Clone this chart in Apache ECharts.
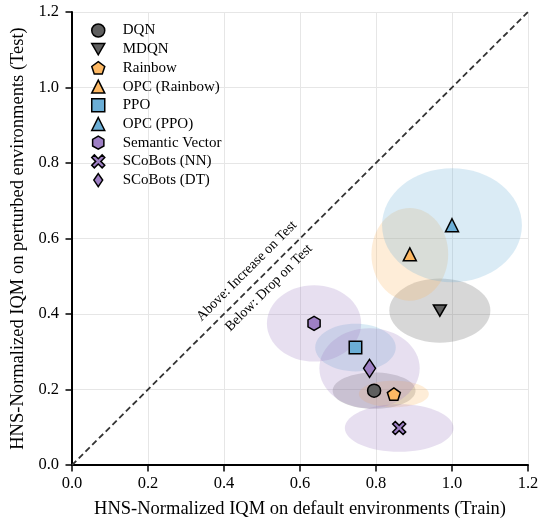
<!DOCTYPE html>
<html><head><meta charset="utf-8">
<script src="https://cdn.jsdelivr.net/npm/echarts@6/dist/echarts.min.js"></script>
<style>html,body{margin:0;padding:0;background:#fff;overflow:hidden}#c{width:538px;height:523px}</style>
</head><body><div id="c"></div>
<script>
const methods = ['DQN','MDQN','Rainbow','OPC (Rainbow)','PPO','OPC (PPO)','Semantic Vector','SCoBots (NN)','SCoBots (DT)'];
const trainIQM = [0.795, 0.968, 0.847, 0.889, 0.746, 1.000, 0.637, 0.861, 0.783];
const testIQM  = [0.197, 0.409, 0.188, 0.558, 0.311, 0.635, 0.375, 0.098, 0.256];
const trainSpread = [0.109, 0.133, 0.092, 0.101, 0.106, 0.184, 0.124, 0.143, 0.132];
const testSpread  = [0.048, 0.085, 0.035, 0.123, 0.063, 0.151, 0.101, 0.063, 0.106];
const axisTicks = [0.0, 0.2, 0.4, 0.6, 0.8, 1.0, 1.2];
const annoText = ['Above: Increase on Test', 'Below: Drop on Test'];
const annoX = [0.460, 0.518];
const annoY = [0.514, 0.469];

const markerColors = ['#5f5f5f','#5f5f5f','#fdb863','#fdb863','#6baed6','#6baed6','#9e7fc4','#9e7fc4','#9e7fc4'];
const ellipseColors = ['rgba(95,95,95,0.25)','rgba(95,95,95,0.25)','rgba(253,184,99,0.25)','rgba(253,184,99,0.25)','rgba(107,174,214,0.25)','rgba(107,174,214,0.25)','rgba(158,127,196,0.25)','rgba(158,127,196,0.25)','rgba(158,127,196,0.25)'];
const thinDiamond = 'path://M0.34,0 L0.68,0.5 L0.34,1 L0,0.5 Z';
const symbols = [
  'circle',
  'path://M0,0 L2,0 L1,1.732 Z',
  'path://M1,0 L1.951,0.691 L1.588,1.809 L0.412,1.809 L0.049,0.691 Z',
  'triangle',
  'rect',
  'triangle',
  'path://M0.866,0 L1.732,0.5 L1.732,1.5 L0.866,2 L0,1.5 L0,0.5 Z',
  'path://M0.2,0 L0.5,0.3 L0.8,0 L1,0.2 L0.7,0.5 L1,0.8 L0.8,1 L0.5,0.7 L0.2,1 L0,0.8 L0.3,0.5 L0,0.2 Z',
  'diamond'
];
const symbolSizes = [13, 13, 13, 13, 12.5, 13, 14, 13, [12, 18]];

const FONT = '"Liberation Serif", "Times New Roman", serif';
const chart = echarts.init(document.getElementById('c'), null, {renderer: 'canvas'});

const series = [];
series.push({
  type: 'custom',
  name: 'spread',
  z: 1,
  silent: true,
  encode: {x: 0, y: 1},
  data: methods.map((m, i) => [trainIQM[i], testIQM[i], trainSpread[i], testSpread[i], i]),
  renderItem: function (params, api) {
    const c = api.coord([api.value(0), api.value(1)]);
    const s = api.size([api.value(2), api.value(3)]);
    return {type: 'ellipse', shape: {cx: c[0], cy: c[1], rx: s[0], ry: s[1]},
      style: {fill: ellipseColors[api.value(4)]}};
  }
});
series.push({
  type: 'line',
  name: 'diag',
  z: 2,
  silent: true,
  symbol: 'none',
  data: [[axisTicks[0], axisTicks[0]], [axisTicks[axisTicks.length-1], axisTicks[axisTicks.length-1]]],
  lineStyle: {color: '#333', width: 1.8, type: [6, 3.5]}
});
series.push({
  type: 'custom',
  name: 'anno',
  z: 2,
  silent: true,
  encode: {x: 0, y: 1},
  data: annoText.map((t, i) => [annoX[i], annoY[i], i]),
  renderItem: function (params, api) {
    const c = api.coord([api.value(0), api.value(1)]);
    return {type: 'text', x: c[0], y: c[1], rotation: Math.PI / 4,
      style: {text: annoText[api.value(2)], align: 'center', verticalAlign: 'middle',
        font: '14px ' + FONT, fill: '#000'}};
  }
});
methods.forEach((m, i) => {
  series.push({
    type: 'scatter',
    name: m,
    z: 5,
    symbol: symbols[i],
    symbolSize: symbolSizes[i],
    symbolKeepAspect: true,
    itemStyle: {color: markerColors[i], borderColor: '#000', borderWidth: 1.5, opacity: 1},
    data: [[trainIQM[i], testIQM[i]]]
  });
});

const axisCommon = {
  min: axisTicks[0], max: axisTicks[axisTicks.length-1], interval: 0.2,
  nameLocation: 'middle',
  nameTextStyle: {fontFamily: FONT, fontSize: 18.5, color: '#000'},
  axisLine: {show: true, onZero: false, lineStyle: {color: '#000', width: 2}},
  axisTick: {show: true, inside: false, length: 6.5, lineStyle: {color: '#000', width: 1.5}},
  axisLabel: {fontFamily: FONT, fontSize: 16.5, color: '#000',
    formatter: v => v.toFixed(1)},
  splitLine: {show: true, lineStyle: {color: '#e6e6e6', width: 1}}
};

chart.setOption({
  animation: false,
  backgroundColor: '#fff',
  grid: {left: 72, right: 10, top: 12, bottom: 58, containLabel: false, outerBoundsMode: 'none'},
  xAxis: Object.assign({}, axisCommon, {type: 'value', name: 'HNS-Normalized IQM on default environments (Train)', nameGap: 35,
    axisLabel: Object.assign({}, axisCommon.axisLabel, {margin: 10})}),
  yAxis: Object.assign({}, axisCommon, {type: 'value', name: 'HNS-Normalized IQM on perturbed environments (Test)', nameGap: 44,
    axisLabel: Object.assign({}, axisCommon.axisLabel, {margin: 13})}),
  legend: {
    orient: 'vertical', left: 91, top: 23, padding: 0,
    itemWidth: 13, itemHeight: 13, itemGap: 3.7,
    data: methods.map((m, i) => i === methods.length - 1 ? {name: m, icon: thinDiamond} : m),
    textStyle: {fontFamily: FONT, fontSize: 15, color: '#000', padding: [0, 0, 0, 13]},
    itemStyle: {borderColor: '#000', borderWidth: 1.5}
  },
  series: series
});
</script></body></html>
